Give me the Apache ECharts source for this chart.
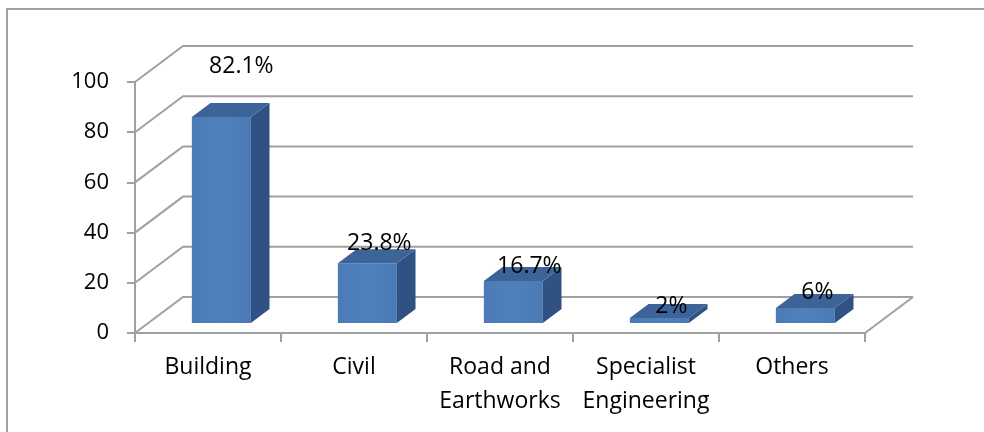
<!DOCTYPE html>
<html>
<head>
<meta charset="utf-8">
<script src="https://cdn.jsdelivr.net/npm/echarts@6/dist/echarts.min.js"></script>
<style>
html,body{margin:0;padding:0;background:#fff;}
#c{width:984px;height:432px;}
</style>
</head>
<body>
<div id="c"></div>
<script>
// ---- data ----
const categories = ['Building', 'Civil', 'Road and\nEarthworks', 'Specialist\nEngineering', 'Others'];
const values = [82.1, 23.8, 16.7, 2, 6];
const valueLabels = ['82.1%', '23.8%', '16.7%', '2%', '6%'];
const yTicks = [0, 20, 40, 60, 80, 100];

// ---- style constants ----
const DX = 48, DY = -36;          // floor depth offset
const D1 = 0.278, D2 = 0.667;     // bar front/back depth fraction
const BAR_W = 0.404;              // bar width fraction of category
const LABEL_LIFT = [35, 5, 0, -3, 0];
const LABEL_SHIFT = [8, 0, 4, 0, 0];
const GRID_COLOR = '#a0a0a0';
const FONT = '"Open Sans", sans-serif';

const chart = echarts.init(document.getElementById('c'));
chart.setOption({
  animation: false,
  backgroundColor: '#fff',
  graphic: [{
    type: 'rect', shape: {x: 7, y: 9, width: 1100, height: 1000},
    style: {fill: 'none', stroke: '#a0a0a0', lineWidth: 2}, z: -10
  }],
  grid: {left: 135, right: 119, top: 82, bottom: 99},
  xAxis: {
    type: 'category', data: categories,
    axisLine: {lineStyle: {color: GRID_COLOR, width: 2}},
    axisTick: {show: true, length: 9, lineStyle: {color: GRID_COLOR, width: 2}},
    axisLabel: {color: '#000', fontSize: 23, fontFamily: FONT, lineHeight: 34, margin: 17, interval: 0}
  },
  yAxis: {
    type: 'value', min: 0, max: 100, interval: 20,
    axisLine: {show: true, lineStyle: {color: GRID_COLOR, width: 2}},
    axisTick: {show: true, length: 8, lineStyle: {color: GRID_COLOR, width: 2}},
    axisLabel: {color: '#000', fontSize: 22, fontFamily: FONT, margin: 26},
    splitLine: {show: false}
  },
  series: [
    {
      type: 'custom', z: 1, silent: true,
      data: yTicks.map(v => [0, v]),
      renderItem: function (params, api) {
        const cs = params.coordSys;
        const v = api.value(1);
        const y = api.coord([0, v])[1];
        const L = cs.x, R = cs.x + cs.width;
        const children = [{
          type: 'polyline',
          shape: {points: [[L, y], [L + DX, y + DY], [R + DX, y + DY]]},
          style: {stroke: GRID_COLOR, lineWidth: 2, fill: 'none'}
        }];
        if (v === 0) {
          children.push({
            type: 'line', shape: {x1: R, y1: y, x2: R + DX, y2: y + DY},
            style: {stroke: GRID_COLOR, lineWidth: 2}
          });
        }
        return {type: 'group', children: children};
      }
    },
    {
      type: 'custom', z: 2,
      data: values.map((v, i) => [i, v]),
      renderItem: function (params, api) {
        const i = api.value(0), v = api.value(1);
        const c0 = api.coord([i, 0]);
        const cv = api.coord([i, v]);
        const bw = api.size([1, 0])[0];
        const w = bw * BAR_W;
        const h = c0[1] - cv[1];
        const x0 = c0[0] + D1 * DX - w / 2, x1 = x0 + w;
        const yb = c0[1] + D1 * DY, yt = yb - h;
        const sx = (D2 - D1) * DX, sy = (D2 - D1) * DY;
        const front = {
          type: 'rect', shape: {x: x0, y: yt, width: w, height: h},
          style: {fill: new echarts.graphic.LinearGradient(0, 0, 1, 0, [
            {offset: 0, color: '#4a7bb7'}, {offset: 0.5, color: '#4f81bd'}, {offset: 1, color: '#4a7ab5'}])}
        };
        const top = {
          type: 'polygon',
          shape: {points: [[x0, yt], [x1, yt], [x1 + sx, yt + sy], [x0 + sx, yt + sy]]},
          style: {fill: '#3d6498'}
        };
        const side = {
          type: 'polygon',
          shape: {points: [[x1, yt], [x1 + sx, yt + sy], [x1 + sx, yb + sy], [x1, yb]]},
          style: {fill: '#2f5282'}
        };
        const label = {
          type: 'text',
          style: {
            text: valueLabels[i], x: (x0 + x1) / 2 + 12 + LABEL_SHIFT[i], y: yt - 15 - LABEL_LIFT[i],
            align: 'center', verticalAlign: 'middle',
            fontSize: 23, fontFamily: FONT, fill: '#000'
          },
          z2: 10
        };
        return {type: 'group', children: [front, side, top, label]};
      }
    }
  ]
});
</script>
</body>
</html>
